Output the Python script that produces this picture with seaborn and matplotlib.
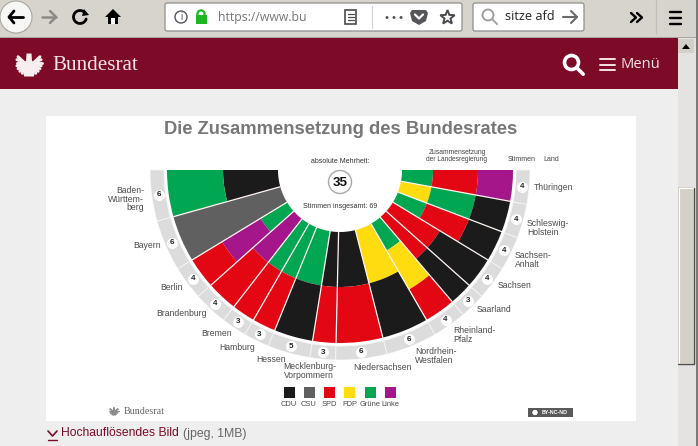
"""
plot.py: Bundesrat seat chart inside a browser screenshot.
Page furniture is drawn in pixel coordinates, the half ring on a polar axes.
"""

import numpy as np
import matplotlib
matplotlib.use("Agg")
import matplotlib.pyplot as plt
from matplotlib.patches import Circle, Polygon, Rectangle, FancyBboxPatch
import seaborn as sns

W, H = 698, 446

# ── data ─────────────────────────────────────────────────────────────────────
STATES = ["Baden-Württemberg", "Bayern", "Berlin", "Brandenburg", "Bremen", "Hamburg",
          "Hessen", "Mecklenburg-Vorpommern", "Niedersachsen", "Nordrhein-Westfalen",
          "Rheinland-Pfalz", "Saarland", "Sachsen", "Sachsen-Anhalt",
          "Schleswig-Holstein", "Thüringen"]
VOTES = [6, 6, 4, 4, 3, 3, 5, 3, 6, 6, 4, 3, 4, 4, 4, 4]
# coalition of each state, from the inner layer to the outer layer
COALITIONS = [
    ["CDU", "Grüne"], ["CSU"], ["Grüne", "Linke", "SPD"], ["Linke", "SPD"],
    ["Grüne", "SPD"], ["Grüne", "SPD"], ["Grüne", "CDU"], ["CDU", "SPD"],
    ["CDU", "SPD"], ["FDP", "CDU"], ["Grüne", "FDP", "SPD"], ["SPD", "CDU"],
    ["SPD", "CDU"], ["Grüne", "SPD", "CDU"], ["FDP", "Grüne", "CDU"],
    ["Grüne", "SPD", "Linke"],
]
PARTIES = ["CDU", "CSU", "SPD", "FDP", "Grüne", "Linke"]
MAJORITY = 35
TOTAL = 69

# ── style ────────────────────────────────────────────────────────────────────
party_colors = dict(zip(PARTIES, sns.color_palette(
    ["#1b1b1b", "#606060", "#e30613", "#ffdc0f", "#00a651", "#a5168b"])))
LAYER_EDGES = {1: [62, 173], 2: [62, 117, 173], 3: [62, 93, 138, 173]}
RING_IN, RING_OUT, BADGE_R = 176, 190, 183

CRIMSON = "#7d0a27"
TOOLBAR = "#d7d4cd"
PAGE = "#eeeeef"
LABEL = "#4a4a4a"

sns.set_theme(style="white")
plt.rcParams["font.family"] = ["Liberation Sans", "DejaVu Sans"]

fig = plt.figure(figsize=(W / 100, H / 100), dpi=100, facecolor=PAGE)
page = fig.add_axes([0, 0, 1, 1])
page.set_xlim(0, W)
page.set_ylim(H, 0)
page.axis("off")


def rect(x0, y0, x1, y1, color, **kw):
    page.add_patch(Rectangle((x0, y0), x1 - x0, y1 - y0, facecolor=color, edgecolor="none", **kw))


def box(x0, y0, x1, y1):
    page.add_patch(FancyBboxPatch((x0, y0), x1 - x0, y1 - y0, boxstyle="round,pad=0,rounding_size=2",
                                  facecolor="white", edgecolor="#8f8f8c", lw=0.9))


def line(xs, ys, color="black", lw=2.0, **kw):
    page.plot(xs, ys, color=color, lw=lw, solid_capstyle="round", **kw)


def magnifier(x, y, r, color, lw):
    page.add_patch(Circle((x, y), r, fill=False, edgecolor=color, lw=lw))
    d = r * 0.72
    line([x + d, x + d + r * 0.95], [y + d, y + d + r * 0.95], color, lw)


def eagle(x, y, s, color):
    # rough federal eagle: fanned wings, body and tail
    for side in (-1, 1):
        for a in np.linspace(-0.5, 1.25, 8):
            page.plot([x + side * 0.18 * s, x + side * s * 0.5 * np.cos(a)],
                      [y - 0.05 * s, y - 0.05 * s + s * 0.5 * np.sin(a)],
                      color=color, lw=s * 0.085, solid_capstyle="round")
    page.add_patch(Polygon([[x - 0.1 * s, y - 0.42 * s], [x + 0.1 * s, y - 0.42 * s],
                            [x + 0.14 * s, y + 0.2 * s], [x + 0.2 * s, y + 0.5 * s],
                            [x - 0.2 * s, y + 0.5 * s], [x - 0.14 * s, y + 0.2 * s]],
                           facecolor=color, edgecolor="none"))


# ── browser chrome ───────────────────────────────────────────────────────────
rect(0, 0, W, 38, TOOLBAR)
rect(0, 37, W, 38.5, "#a9a7a1")
rect(0, 38, 678, 89, CRIMSON)
rect(678, 38, 696, H, "#e4e3e1")
rect(696, 0, W, H, "#7a7a78")
rect(678, 187, 693, 363, "#d4d0c8")
line([678.5, 678.5, 693], [363, 187.5, 187.5], "white", 0.8)
line([678, 693.5, 693.5], [363.5, 363.5, 187.5], "#4d4d4a", 1.0)
rect(678, 39, 694, 53, "#d4d0c8")
page.add_patch(Polygon([[682, 49], [690, 49], [686, 44]], facecolor="black", edgecolor="none"))

page.add_patch(Circle((16, 17), 16, facecolor="#f7f7f5", edgecolor="#a9a7a1", lw=0.8))
line([9, 23], [17, 17], "black", 2.0)
line([14, 9, 14], [11, 17, 23], "black", 2.0)
line([42, 56], [17, 17], "#8b8a86", 1.8)
line([50, 56, 50], [11, 17, 23], "#8b8a86", 1.8)
arc = np.linspace(0.1 * np.pi, 1.75 * np.pi, 30)
line(80 + 6.5 * np.cos(arc), 17 + 6.5 * np.sin(arc), "black", 2.0)
page.add_patch(Polygon([[84, 9], [89, 15], [82, 16]], facecolor="black", edgecolor="none"))
page.add_patch(Polygon([[105, 17], [113, 9], [121, 17], [118, 17], [118, 24], [108, 24], [108, 17]],
                       facecolor="black", edgecolor="none"))
rect(111, 18, 115, 24, "white")

box(165, 3, 462, 31)
box(473, 3, 584, 31)
page.add_patch(Circle((181, 17), 6, fill=False, edgecolor="#55555f", lw=1.0))
page.text(181, 17, "i", ha="center", va="center", fontsize=7, color="#55555f")
rect(195.5, 15, 207, 24, "#1fb71f")
page.add_patch(Circle((201, 14), 3.6, fill=False, edgecolor="#1fb71f", lw=1.6))
page.text(218, 17, "https://www.bu", ha="left", va="center", fontsize=8.8, color="#767676",
          family="Open Sans")
rect(345, 10, 356, 24, "white")
page.add_patch(Rectangle((345, 10), 11, 14, fill=False, edgecolor="#4a4a4f", lw=1.2))
for yy in (14, 17, 20):
    line([347.5, 353.5], [yy, yy], "#4a4a4f", 0.9)
line([371.5, 371.5], [6, 28], "#d5d5d5", 0.9)
for xx in (387, 394, 401):
    page.add_patch(Circle((xx, 17.5), 1.5, facecolor="#55555a", edgecolor="none"))
page.add_patch(Polygon([[412, 10], [426, 10], [428, 13], [426, 21], [419, 25], [412, 21], [410, 13]],
                       facecolor="#55555a", edgecolor="none"))
line([415, 419, 423], [14.5, 18.5, 14.5], "white", 1.6)
star = [[447.5 + (7.5 if i % 2 == 0 else 3.2) * np.sin(i * np.pi / 5),
         17.5 - (7.5 if i % 2 == 0 else 3.2) * np.cos(i * np.pi / 5)] for i in range(10)]
page.add_patch(Polygon(star, fill=False, edgecolor="#4a4a4f", lw=1.4))
magnifier(488, 15, 5.5, "#9c9c9c", 1.3)
page.text(505, 17, "sitze afd", ha="left", va="center", fontsize=9.2, color="#222222", family="Open Sans")
line([563, 577], [17, 17], "#6a6a6a", 1.5)
line([571, 577, 571], [11, 17, 23], "#6a6a6a", 1.5)
line([631, 636, 631], [13, 17.5, 22], "black", 1.7)
line([637, 642, 637], [13, 17.5, 22], "black", 1.7)
line([655.5, 655.5], [0, 33], "#c2bfb8", 0.9)
for yy in (11.5, 17.5, 23.5):
    line([670, 681], [yy, yy], "black", 1.7)

# ── site header ──────────────────────────────────────────────────────────────
eagle(29, 64, 25, "#f8eef0")
page.text(52, 65.5, "Bundesrat", ha="left", va="center", fontsize=15.2, color="#f6e4e8",
          family="Liberation Serif")
magnifier(571.5, 62.5, 7, "white", 2.6)
for yy in (59, 64.5, 70):
    line([599.5, 614.5], [yy, yy], "#f6e4e8", 1.4)
page.text(620, 65, "Menü", ha="left", va="center", fontsize=10.6, color="#f6e4e8", family="Open Sans")

# ── image panel ──────────────────────────────────────────────────────────────
rect(46, 116, 636, 421, "white")
page.text(340.5, 130, "Die Zusammensetzung des Bundesrates", ha="center", va="center",
          fontsize=13.2, fontweight="bold", color="#777777")

page.text(340, 161.5, "absolute Mehrheit:", ha="center", va="center", fontsize=5, color="#333333")
page.add_patch(Circle((340, 182), 11.5, facecolor="white", edgecolor="#a8a8a8", lw=1.0))
page.text(340, 182.5, str(MAJORITY), ha="center", va="center", fontsize=9.6, fontweight="bold",
          color="#111111")
page.text(340, 207, f"Stimmen insgesamt: {TOTAL}", ha="center", va="center", fontsize=5, color="#333333")

page.text(457, 152, "Zusammensetzung", ha="center", va="center", fontsize=4.9, color="#444444")
page.text(457, 159.5, "der Landesregierung", ha="center", va="center", fontsize=4.8, color="#444444")
page.text(522, 159.5, "Stimmen", ha="center", va="center", fontsize=5, color="#444444")
page.text(551, 159.5, "Land", ha="center", va="center", fontsize=5, color="#444444")

# label placement: text lines, x, y, alignment
STATE_LABELS = [
    ("Baden-\nWürttem-\nberg", 144, 199, "right"), ("Bayern", 161, 245, "right"),
    ("Berlin", 183, 287, "right"), ("Brandenburg", 207, 313, "right"),
    ("Bremen", 232, 333, "right"), ("Hamburg", 255, 347, "right"),
    ("Hessen", 286, 359, "right"), ("Mecklenburg-\nVorpommern", 310, 371, "center"),
    ("Niedersachsen", 383, 368, "center"), ("Nordrhein-\nWestfalen", 415, 356, "left"),
    ("Rheinland-\nPfalz", 453, 335, "left"), ("Saarland", 477, 310, "left"),
    ("Sachsen", 498, 286, "left"), ("Sachsen-\nAnhalt", 515, 260, "left"),
    ("Schleswig-\nHolstein", 527, 228, "left"), ("Thüringen", 534, 188, "left"),
]
for text, x, y, ha in STATE_LABELS:
    page.text(x, y, text, ha=ha, va="center", fontsize=6.2, color=LABEL, linespacing=0.95,
              multialignment="left" if ha == "center" else ha)

# party key
for party, x in zip(PARTIES, [289, 309, 329, 349.5, 370, 390]):
    rect(x - 5.5, 386.5, x + 5.5, 397.5, party_colors[party])
    page.text(x, 404.5, party, ha="center", va="center", fontsize=5.4, color=LABEL)

eagle(114, 411, 9, "#8c8c8c")
page.text(124, 411, "Bundesrat", ha="left", va="center", fontsize=7.2, color="#666666",
          family="Liberation Serif")
rect(528, 408, 573, 417, "#5a5a5a")
page.add_patch(Circle((535, 412.5), 3.2, facecolor="white", edgecolor="#333333", lw=0.5))
page.text(555, 412.7, "BY-NC-ND", ha="center", va="center", fontsize=3.8, fontweight="bold", color="white")

line([48, 52.5, 57], [431, 436, 431], CRIMSON, 1.2)
line([48, 57], [439.5, 439.5], CRIMSON, 1.0)
page.text(61, 433.5, "Hochauflösendes Bild", ha="left", va="center", fontsize=8.7, color=CRIMSON)
page.text(183, 433.5, "(jpeg, 1MB)", ha="left", va="center", fontsize=8.8, color="#666666")

# ── half ring ────────────────────────────────────────────────────────────────
polar = fig.add_axes([150 / W, (H - 360) / H, 380 / W, 380 / H], projection="polar")
polar.patch.set_alpha(0)

vote_arr = np.array(VOTES, dtype=float)
# the states run along the lower half, from the left end to the right end
edges = np.pi + np.concatenate([[0], np.cumsum(vote_arr)]) / vote_arr.sum() * np.pi
mids = (edges[:-1] + edges[1:]) / 2
widths = edges[1:] - edges[:-1]


def polar_bar(theta, width, r0, r1, color, **kw):
    sns.barplot(x=[theta], y=[r1 - r0], bottom=r0, width=width, native_scale=True, orient="x",
                color=color, saturation=1, errorbar=None, ax=polar, **kw)


for theta, width, coalition in zip(mids, widths, COALITIONS):
    radii = LAYER_EDGES[len(coalition)]
    for party, r0, r1 in zip(coalition, radii[:-1], radii[1:]):
        polar_bar(theta, width, r0, r1, party_colors[party], linewidth=0)
    polar_bar(theta, width, RING_IN, RING_OUT, "#dcdcdc", linewidth=0.6, edgecolor="#f6f6f6")

# white dividers between the states
for theta in edges[1:-1]:
    polar.plot([theta, theta], [62, 173], color="#fff4f2", lw=0.9)

polar.scatter(mids, [BADGE_R] * len(mids), s=62, color="white", linewidths=0, zorder=5)
for theta, votes in zip(mids, VOTES):
    polar.text(theta, BADGE_R, str(votes), ha="center", va="center", fontsize=5.8,
               fontweight="bold", color="#222222", zorder=6)

polar.set_xlim(0, 2 * np.pi)
polar.set_ylim(0, RING_OUT)
polar.axis("off")

fig.savefig("out.png", dpi=100, facecolor=PAGE)
